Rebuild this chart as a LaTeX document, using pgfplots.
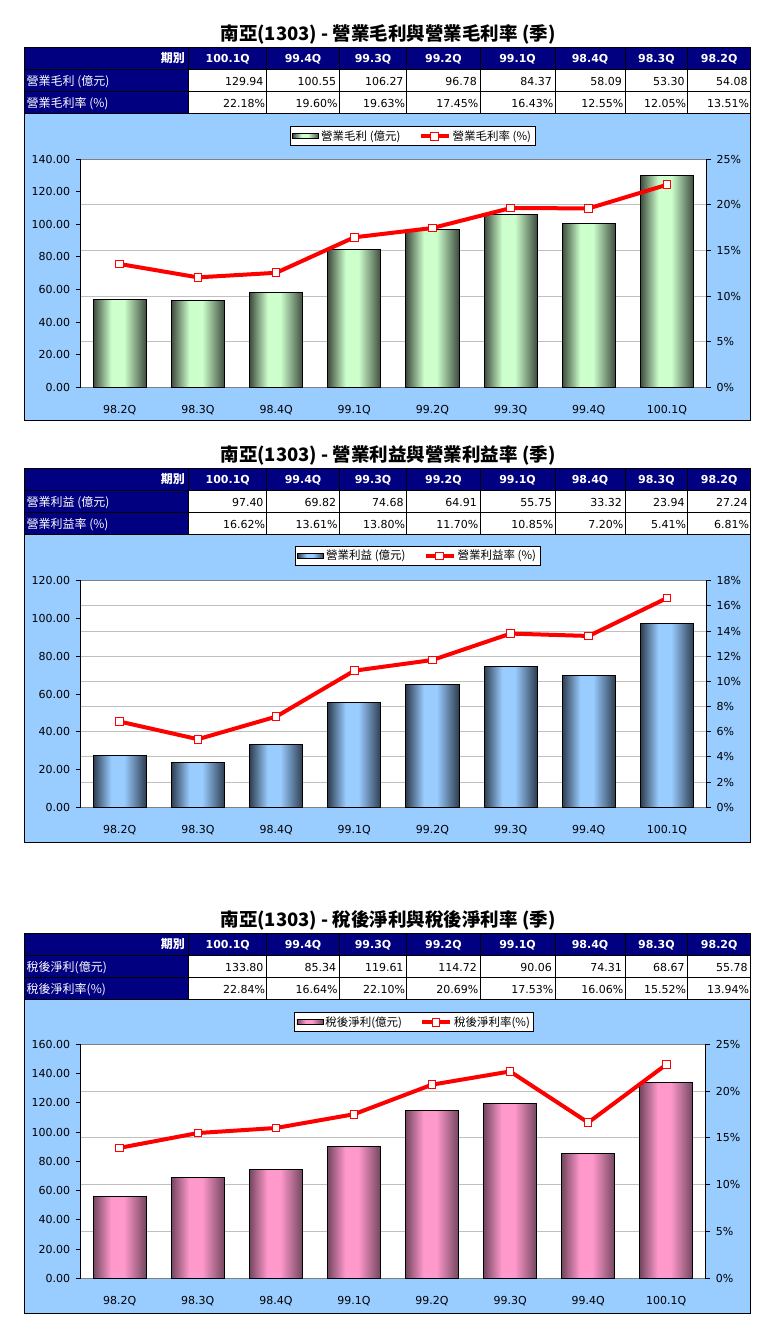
\documentclass[border=0pt]{standalone}
\usepackage{pgfplots}
\pgfplotsset{compat=1.18}
\usepackage{fontspec}
\setmainfont{DejaVu Sans}
\newfontfamily\cjk{Noto Sans CJK TC}

\definecolor{navy}{HTML}{000080}
\definecolor{chartbg}{HTML}{99CCFF}
\definecolor{gridc}{HTML}{C0C0C0}
\definecolor{framec}{HTML}{808080}
\definecolor{gLight}{HTML}{CCFFCC}
\definecolor{gDark}{HTML}{3E4C3E}
\definecolor{bLight}{HTML}{99CCFF}
\definecolor{bDark}{HTML}{2E3D50}
\definecolor{pLight}{HTML}{FF99CC}
\definecolor{pDark}{HTML}{74465F}

\pgfdeclarehorizontalshading{greenbar}{100bp}{color(0bp)=(gDark); color(25bp)=(gDark); color(42bp)=(gLight); color(54bp)=(gLight); color(75bp)=(gDark); color(100bp)=(gDark)}
\pgfdeclarehorizontalshading{bluebar}{100bp}{color(0bp)=(bDark); color(25bp)=(bDark); color(42bp)=(bLight); color(54bp)=(bLight); color(75bp)=(bDark); color(100bp)=(bDark)}
\pgfdeclarehorizontalshading{pinkbar}{100bp}{color(0bp)=(pDark); color(25bp)=(pDark); color(42bp)=(pLight); color(54bp)=(pLight); color(75bp)=(pDark); color(100bp)=(pDark)}

\newcommand\tkfont{\fontsize{11}{13}\selectfont}

\pgfplotsset{
  baraxis/.style={
    anchor=south west, scale only axis, width=625.3pt,
    xmin=-0.5, xmax=7.5, enlargelimits=false,
    axis x line*=bottom, axis y line*=left, axis line style={-},
    x axis line style={draw=framec, line width=1pt},
    y axis line style={draw=black, line width=1pt},
    xtick={0,...,7},
    xticklabels={98.2Q,98.3Q,98.4Q,99.1Q,99.2Q,99.3Q,99.4Q,100.1Q},
    xtick style={draw=none},
    xticklabel style={yshift=-9pt},
    tick align=outside, major tick length=5pt,
    ytick style={black, line width=1pt},
    yticklabel style={xshift=-2pt},
    ticklabel style={font=\tkfont},
    axis background/.style={fill=white},
    extra y tick labels={},
    extra y tick style={grid=major, tick style={draw=none}},
    major grid style={gridc, line width=1pt},
  },
  lineaxis/.style={
    anchor=south west, scale only axis, width=625.3pt,
    xmin=-0.5, xmax=7.5, enlargelimits=false,
    axis x line=none, axis y line*=right, axis line style={-},
    y axis line style={draw=black, line width=1pt},
    xtick=\empty,
    tick align=outside, major tick length=5pt,
    ytick style={black, line width=1pt},
    yticklabel style={xshift=2pt},
    ticklabel style={font=\tkfont},
    legend columns=2,
    legend style={anchor=south, draw=black, line width=1pt, fill=white,
      font=\cjk\fontsize{11.5}{13}\selectfont, inner sep=2pt,
      /tikz/every even column/.append style={column sep=16pt}},
  },
  rateline/.style={red, line width=4pt, mark=square*, mark size=3.8pt,
    mark options={fill=white, draw=red, line width=1pt},
    legend image code/.code={\draw[mark repeat=2, mark phase=2, ##1]
      plot coordinates {(0pt,0pt) (14pt,0pt) (28pt,0pt)};}},
}

% one shaded bar per \addplot, so that each bar gets its own gradient
\newcommand\shbar[3]{\addplot[ybar, bar width=0.68, bar shift=0pt, draw=black,
  line width=1pt, shading=#3] coordinates {(#1,#2)};}

\def\cb{{188.7,266.7,339.3,406.7,480,555,625,687.7,750.7}}

% #1 top y, #2 label row 1, #3 label row 2, #4 values row 1, #5 values row 2 (%)
\newcommand\drawtable[5]{%
  \begin{scope}[shift={(0,-#1)}]
    \fill[navy] (24.3,0) rectangle (750.7,-22);
    \fill[navy] (24.3,-22) rectangle (188.7,-66);
    \fill[white] (188.7,-22) rectangle (750.7,-66);
    \draw[line width=1pt] (24.3,0) rectangle (750.7,-66);
    \draw[line width=1pt] (24.3,-22) -- (750.7,-22);
    \draw[line width=1pt] (24.3,-44) -- (750.7,-44);
    \foreach \i in {0,...,7} {
      \pgfmathsetmacro\xa{\cb[\i]}
      \draw[line width=1pt] (\xa,0) -- (\xa,-66);
    }
    \node[anchor=base east, white, inner sep=0pt,
      font=\cjk\bfseries\fontsize{12}{14}\selectfont] at (185,-15.5) {期別};
    \foreach \h [count=\i from 0] in {100.1Q,99.4Q,99.3Q,99.2Q,99.1Q,98.4Q,98.3Q,98.2Q} {
      \pgfmathsetmacro\xa{\cb[\i]}
      \pgfmathsetmacro\xb{\cb[\i+1]}
      \node[anchor=base, white, inner sep=0pt, font=\bfseries\tkfont]
        at ({(\xa+\xb)/2},-15.5) {\h};
    }
    \node[anchor=base west, white, inner sep=0pt,
      font=\cjk\fontsize{12}{14}\selectfont] at (26.5,-37.8) {#2};
    \node[anchor=base west, white, inner sep=0pt,
      font=\cjk\fontsize{12}{14}\selectfont] at (26.5,-59.8) {#3};
    \foreach \v [count=\i from 1] in {#4} {
      \pgfmathsetmacro\xb{\cb[\i]}
      \node[anchor=base east, inner sep=0pt, font=\tkfont] at (\xb-3,-38.2) {\v};
    }
    \foreach \v [count=\i from 1] in {#5} {
      \pgfmathsetmacro\xb{\cb[\i]}
      \node[anchor=base east, inner sep=0pt, font=\tkfont] at (\xb-1.5,-60) {\v\%};
    }
  \end{scope}}

\newcommand\charttitle[2]{%
  \node[font=\cjk\bfseries\fontsize{18.5}{21}\selectfont] at (388,-#1) {#2};}

\begin{document}
\begin{tikzpicture}[x=1pt,y=1pt]
\path (0,0) rectangle (775,-1330);

% ---------------- panel 1: gross profit ----------------
\charttitle{34}{南亞(1303) - 營業毛利與營業毛利率 (季)}
\filldraw[fill=chartbg, draw=black, line width=1pt] (24.3,-113.3) rectangle (750.7,-420.3);
\drawtable{47.3}{營業毛利 (億元)}{營業毛利率 (\%)}%
  {129.94,100.55,106.27,96.78,84.37,58.09,53.30,54.08}%
  {22.18,19.60,19.63,17.45,16.43,12.55,12.05,13.51}

\begin{axis}[baraxis, at={(80.7pt,-387.5pt)}, height=228.5pt,
  ymin=0, ymax=140, ytick={0,20,...,140},
  yticklabels={0.00,20.00,40.00,60.00,80.00,100.00,120.00,140.00},
  extra y ticks={28,56,84,112}]
\shbar{0}{54.08}{greenbar}
\shbar{1}{53.30}{greenbar}
\shbar{2}{58.09}{greenbar}
\shbar{3}{84.37}{greenbar}
\shbar{4}{96.78}{greenbar}
\shbar{5}{106.27}{greenbar}
\shbar{6}{100.55}{greenbar}
\shbar{7}{129.94}{greenbar}
\end{axis}
\begin{axis}[lineaxis, at={(80.7pt,-387.5pt)}, height=228.5pt,
  ymin=0, ymax=25, ytick={0,5,...,25},
  yticklabels={0\%,5\%,10\%,15\%,20\%,25\%},
  legend style={at={(0.531,1.055)}}]
\draw[framec, line width=1pt] (rel axis cs:0,1) -- (rel axis cs:1,1);
\addlegendimage{legend image code/.code={\draw[shading=greenbar, draw=black, line width=0.8pt] (0pt,-2.5pt) rectangle (26pt,2.5pt);}}
\addlegendentry{營業毛利 (億元)}
\addplot[rateline] coordinates {(0,13.51) (1,12.05) (2,12.55) (3,16.43) (4,17.45) (5,19.63) (6,19.60) (7,22.18)};
\addlegendentry{營業毛利率 (\%)}
\end{axis}

% ---------------- panel 2: operating profit ----------------
\charttitle{455}{南亞(1303) - 營業利益與營業利益率 (季)}
\filldraw[fill=chartbg, draw=black, line width=1pt] (24.3,-534.3) rectangle (750.7,-842.3);
\drawtable{468.3}{營業利益 (億元)}{營業利益率 (\%)}%
  {97.40,69.82,74.68,64.91,55.75,33.32,23.94,27.24}%
  {16.62,13.61,13.80,11.70,10.85,7.20,5.41,6.81}

\begin{axis}[baraxis, at={(80.7pt,-807.3pt)}, height=226.6pt,
  ymin=0, ymax=120, ytick={0,20,...,120},
  yticklabels={0.00,20.00,40.00,60.00,80.00,100.00,120.00},
  extra y ticks={13.333,26.667,40,53.333,66.667,80,93.333,106.667}]
\shbar{0}{27.24}{bluebar}
\shbar{1}{23.94}{bluebar}
\shbar{2}{33.32}{bluebar}
\shbar{3}{55.75}{bluebar}
\shbar{4}{64.91}{bluebar}
\shbar{5}{74.68}{bluebar}
\shbar{6}{69.82}{bluebar}
\shbar{7}{97.40}{bluebar}
\end{axis}
\begin{axis}[lineaxis, at={(80.7pt,-807.3pt)}, height=226.6pt,
  ymin=0, ymax=18, ytick={0,2,...,18},
  yticklabels={0\%,2\%,4\%,6\%,8\%,10\%,12\%,14\%,16\%,18\%},
  legend style={at={(0.539,1.065)}}]
\draw[framec, line width=1pt] (rel axis cs:0,1) -- (rel axis cs:1,1);
\addlegendimage{legend image code/.code={\draw[shading=bluebar, draw=black, line width=0.8pt] (0pt,-2.5pt) rectangle (26pt,2.5pt);}}
\addlegendentry{營業利益 (億元)}
\addplot[rateline] coordinates {(0,6.81) (1,5.41) (2,7.20) (3,10.85) (4,11.70) (5,13.80) (6,13.61) (7,16.62)};
\addlegendentry{營業利益率 (\%)}
\end{axis}

% ---------------- panel 3: net profit ----------------
\charttitle{920}{南亞(1303) - 稅後淨利與稅後淨利率 (季)}
\filldraw[fill=chartbg, draw=black, line width=1pt] (24.3,-999.3) rectangle (750.7,-1313.3);
\drawtable{933.3}{稅後淨利(億元)}{稅後淨利率(\%)}%
  {133.80,85.34,119.61,114.72,90.06,74.31,68.67,55.78}%
  {22.84,16.64,22.10,20.69,17.53,16.06,15.52,13.94}

\begin{axis}[baraxis, at={(80.7pt,-1278.3pt)}, height=234pt, width=624.6pt,
  ymin=0, ymax=160, ytick={0,20,...,160},
  yticklabels={0.00,20.00,40.00,60.00,80.00,100.00,120.00,140.00,160.00},
  extra y ticks={32,64,96,128}]
\shbar{0}{55.78}{pinkbar}
\shbar{1}{68.67}{pinkbar}
\shbar{2}{74.31}{pinkbar}
\shbar{3}{90.06}{pinkbar}
\shbar{4}{114.72}{pinkbar}
\shbar{5}{119.61}{pinkbar}
\shbar{6}{85.34}{pinkbar}
\shbar{7}{133.80}{pinkbar}
\end{axis}
\begin{axis}[lineaxis, at={(80.7pt,-1278.3pt)}, height=234pt, width=624.6pt,
  ymin=0, ymax=25, ytick={0,5,...,25},
  yticklabels={0\%,5\%,10\%,15\%,20\%,25\%},
  legend style={at={(0.534,1.051)}}]
\draw[framec, line width=1pt] (rel axis cs:0,1) -- (rel axis cs:1,1);
\addlegendimage{legend image code/.code={\draw[shading=pinkbar, draw=black, line width=0.8pt] (0pt,-2.5pt) rectangle (26pt,2.5pt);}}
\addlegendentry{稅後淨利(億元)}
\addplot[rateline] coordinates {(0,13.94) (1,15.52) (2,16.06) (3,17.53) (4,20.69) (5,22.10) (6,16.64) (7,22.84)};
\addlegendentry{稅後淨利率(\%)}
\end{axis}
\end{tikzpicture}
\end{document}
